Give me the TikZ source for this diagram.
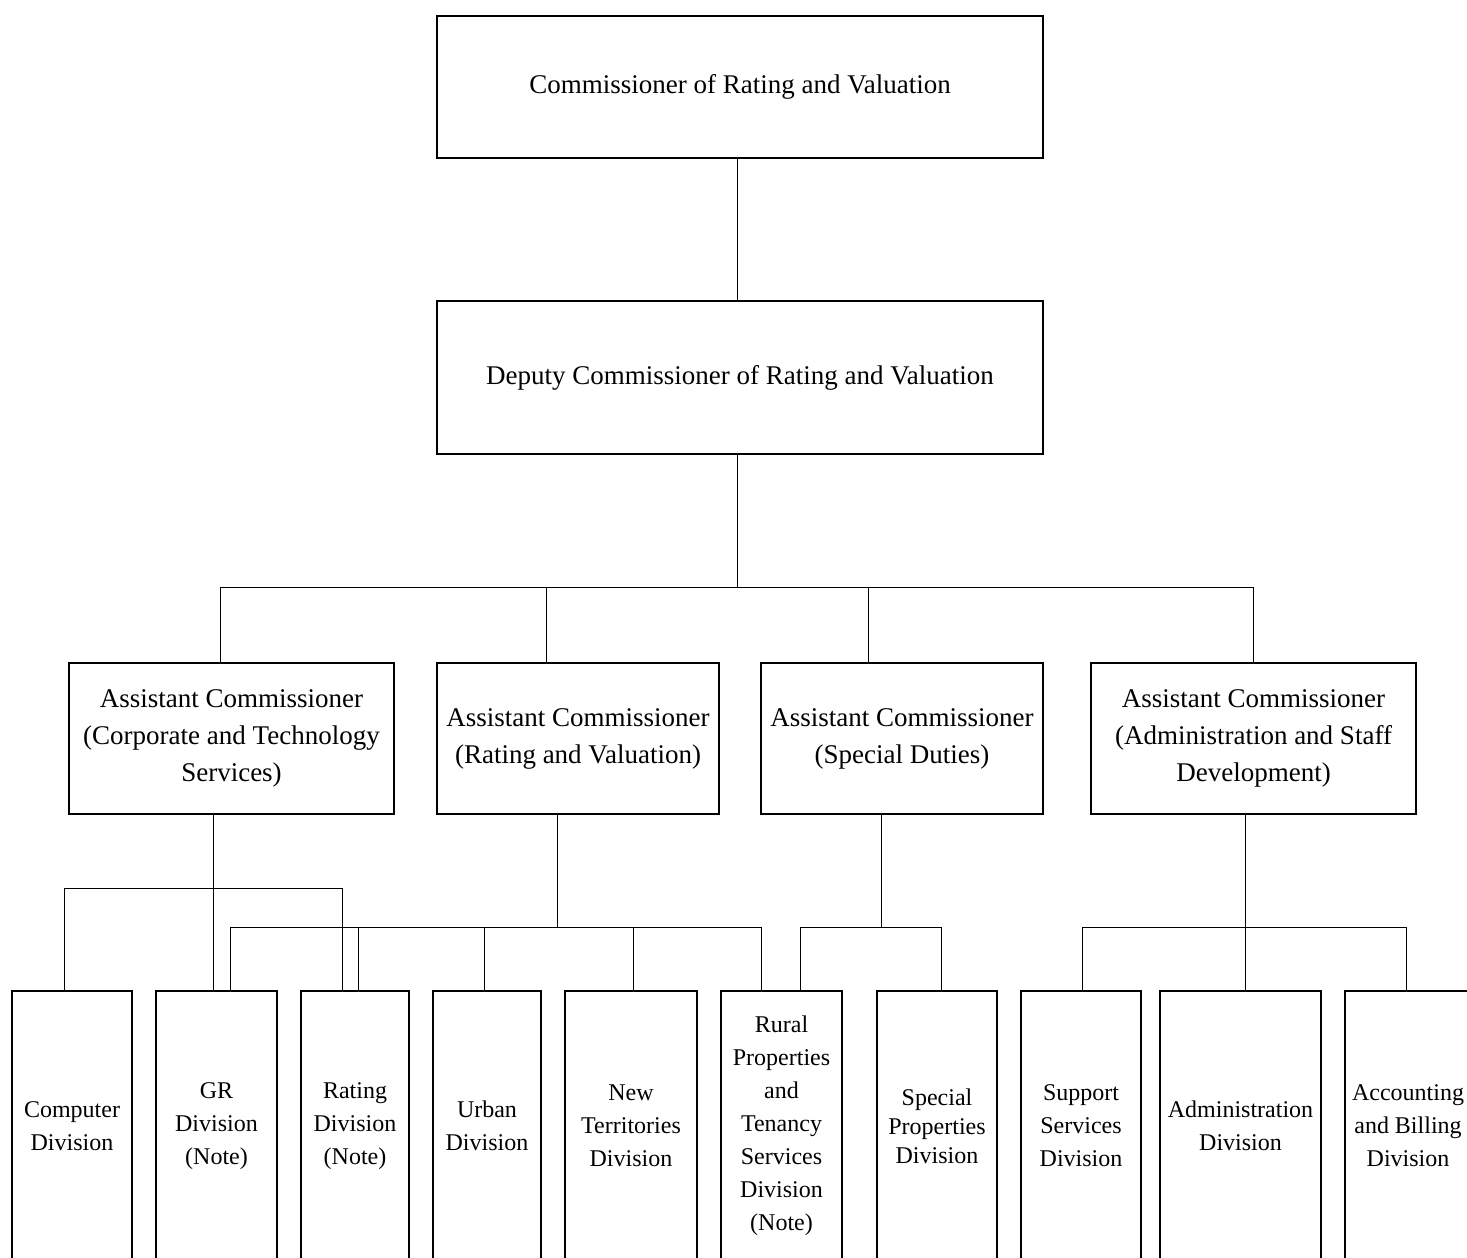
\documentclass[tikz,border=0pt]{standalone}
\usepackage{fontspec}
\setmainfont{Liberation Serif}
\usepackage{tikz}
\usetikzlibrary{positioning,calc}

\begin{document}
\begin{tikzpicture}[x=0.5pt,y=-0.5pt,
    topbox/.style={draw, line width=0.75pt, inner sep=0pt, align=center,
      font=\fontsize{13.5}{18.5}\selectfont},
    divbox/.style={draw, line width=0.75pt, inner sep=0pt, align=center,
      minimum height=135pt, font=\fontsize{12}{16.5}\selectfont},
    link/.style={line width=0.45pt}]

  \useasboundingbox (0,0) rectangle (1467,1258);
  \clip (0,0) rectangle (1467,1258);

  % Commissioner and deputy
  \node[topbox, minimum width=303pt, minimum height=71pt] (crv) at (740,87)
    {Commissioner of Rating and Valuation};
  \node[topbox, minimum width=303pt, minimum height=76.5pt] (dcrv) at (740,377.5)
    {Deputy Commissioner of Rating and Valuation};

  % Assistant commissioners
  \node[topbox, minimum width=162.5pt, minimum height=75.5pt] (act) at (231.5,738.5)
    {Assistant Commissioner\\(Corporate and Technology\\Services)};
  \node[topbox, minimum width=141pt, minimum height=75.5pt] (arv) at (578,738.5)
    {Assistant Commissioner\\(Rating and Valuation)};
  \node[topbox, minimum width=141pt, minimum height=75.5pt] (asd) at (902,738.5)
    {Assistant Commissioner\\(Special Duties)};
  \node[topbox, minimum width=162.5pt, minimum height=75.5pt] (aas) at (1253.5,738.5)
    {Assistant Commissioner\\(Administration and Staff\\Development)};

  % Divisions
  \node[divbox, minimum width=60pt] (comp) at (72,1126) {Computer\\Division};
  \node[divbox, minimum width=60.5pt] (gr) at (216.5,1126) {GR\\Division\\(Note)};
  \node[divbox, minimum width=54pt] (rat) at (355,1126) {Rating\\Division\\(Note)};
  \node[divbox, minimum width=54pt] (urb) at (487,1126) {Urban\\Division};
  \node[divbox, minimum width=66pt] (nt) at (631,1126) {New\\Territories\\Division};
  \node[divbox, minimum width=60.5pt] (rur) at (781.5,1126)
    {Rural\\Properties\\and\\Tenancy\\Services\\Division\\(Note)};
  \node[divbox, minimum width=60pt, font=\fontsize{12}{14.5}\selectfont] (spp) at (937,1126)
    {Special\\Properties\\Division};
  \node[divbox, minimum width=60pt] (sup) at (1081,1126) {Support\\Services\\Division};
  \node[divbox, minimum width=80.5pt] (adm) at (1240.5,1126) {Administration\\Division};
  \node[divbox, minimum width=63pt] (acc) at (1408,1126) {Accounting\\and Billing\\Division};

  % Top links
  \coordinate (jm) at (737,587);
  \coordinate (ja) at (220,587);
  \coordinate (jb) at (546,587);
  \coordinate (jc) at (868,587);
  \coordinate (jd) at (1253,587);
  \draw[link] (jm |- crv.south) -- (jm |- dcrv.north);
  \draw[link] (jm |- dcrv.south) -- (jm);
  \draw[link] (ja |- act.north) -- (ja) -- (jd) -- (jd |- aas.north);
  \draw[link] (jb) -- (jb |- arv.north);
  \draw[link] (jc) -- (jc |- asd.north);

  % Corporate and technology services
  \coordinate (c0) at (213,888);
  \coordinate (c1) at (64,888);
  \coordinate (c2) at (342,888);
  \draw[link] (c0 |- act.south) -- (c0 |- gr.north);
  \draw[link] (c1 |- comp.north) -- (c1) -- (c2) -- (c2 |- rat.north);

  % Rating and valuation
  \coordinate (r0) at (557,927);
  \coordinate (r1) at (230,927);
  \coordinate (r2) at (358,927);
  \coordinate (r3) at (484,927);
  \coordinate (r4) at (633,927);
  \coordinate (r5) at (761,927);
  \draw[link] (r0 |- arv.south) -- (r0);
  \draw[link] (r1 |- gr.north) -- (r1) -- (r5) -- (r5 |- rur.north);
  \foreach \j/\nd in {r2/rat,r3/urb,r4/nt}
    \draw[link] (\j) -- (\j |- \nd.north);

  % Special duties
  \coordinate (s0) at (881,927);
  \coordinate (s1) at (800,927);
  \coordinate (s2) at (941,927);
  \draw[link] (s0 |- asd.south) -- (s0);
  \draw[link] (s1 |- rur.north) -- (s1) -- (s2) -- (s2 |- spp.north);

  % Administration and staff development
  \coordinate (t0) at (1245,927);
  \coordinate (t1) at (1082,927);
  \coordinate (t2) at (1406,927);
  \draw[link] (t0 |- aas.south) -- (t0 |- adm.north);
  \draw[link] (t1 |- sup.north) -- (t1) -- (t2) -- (t2 |- acc.north);
\end{tikzpicture}
\end{document}
